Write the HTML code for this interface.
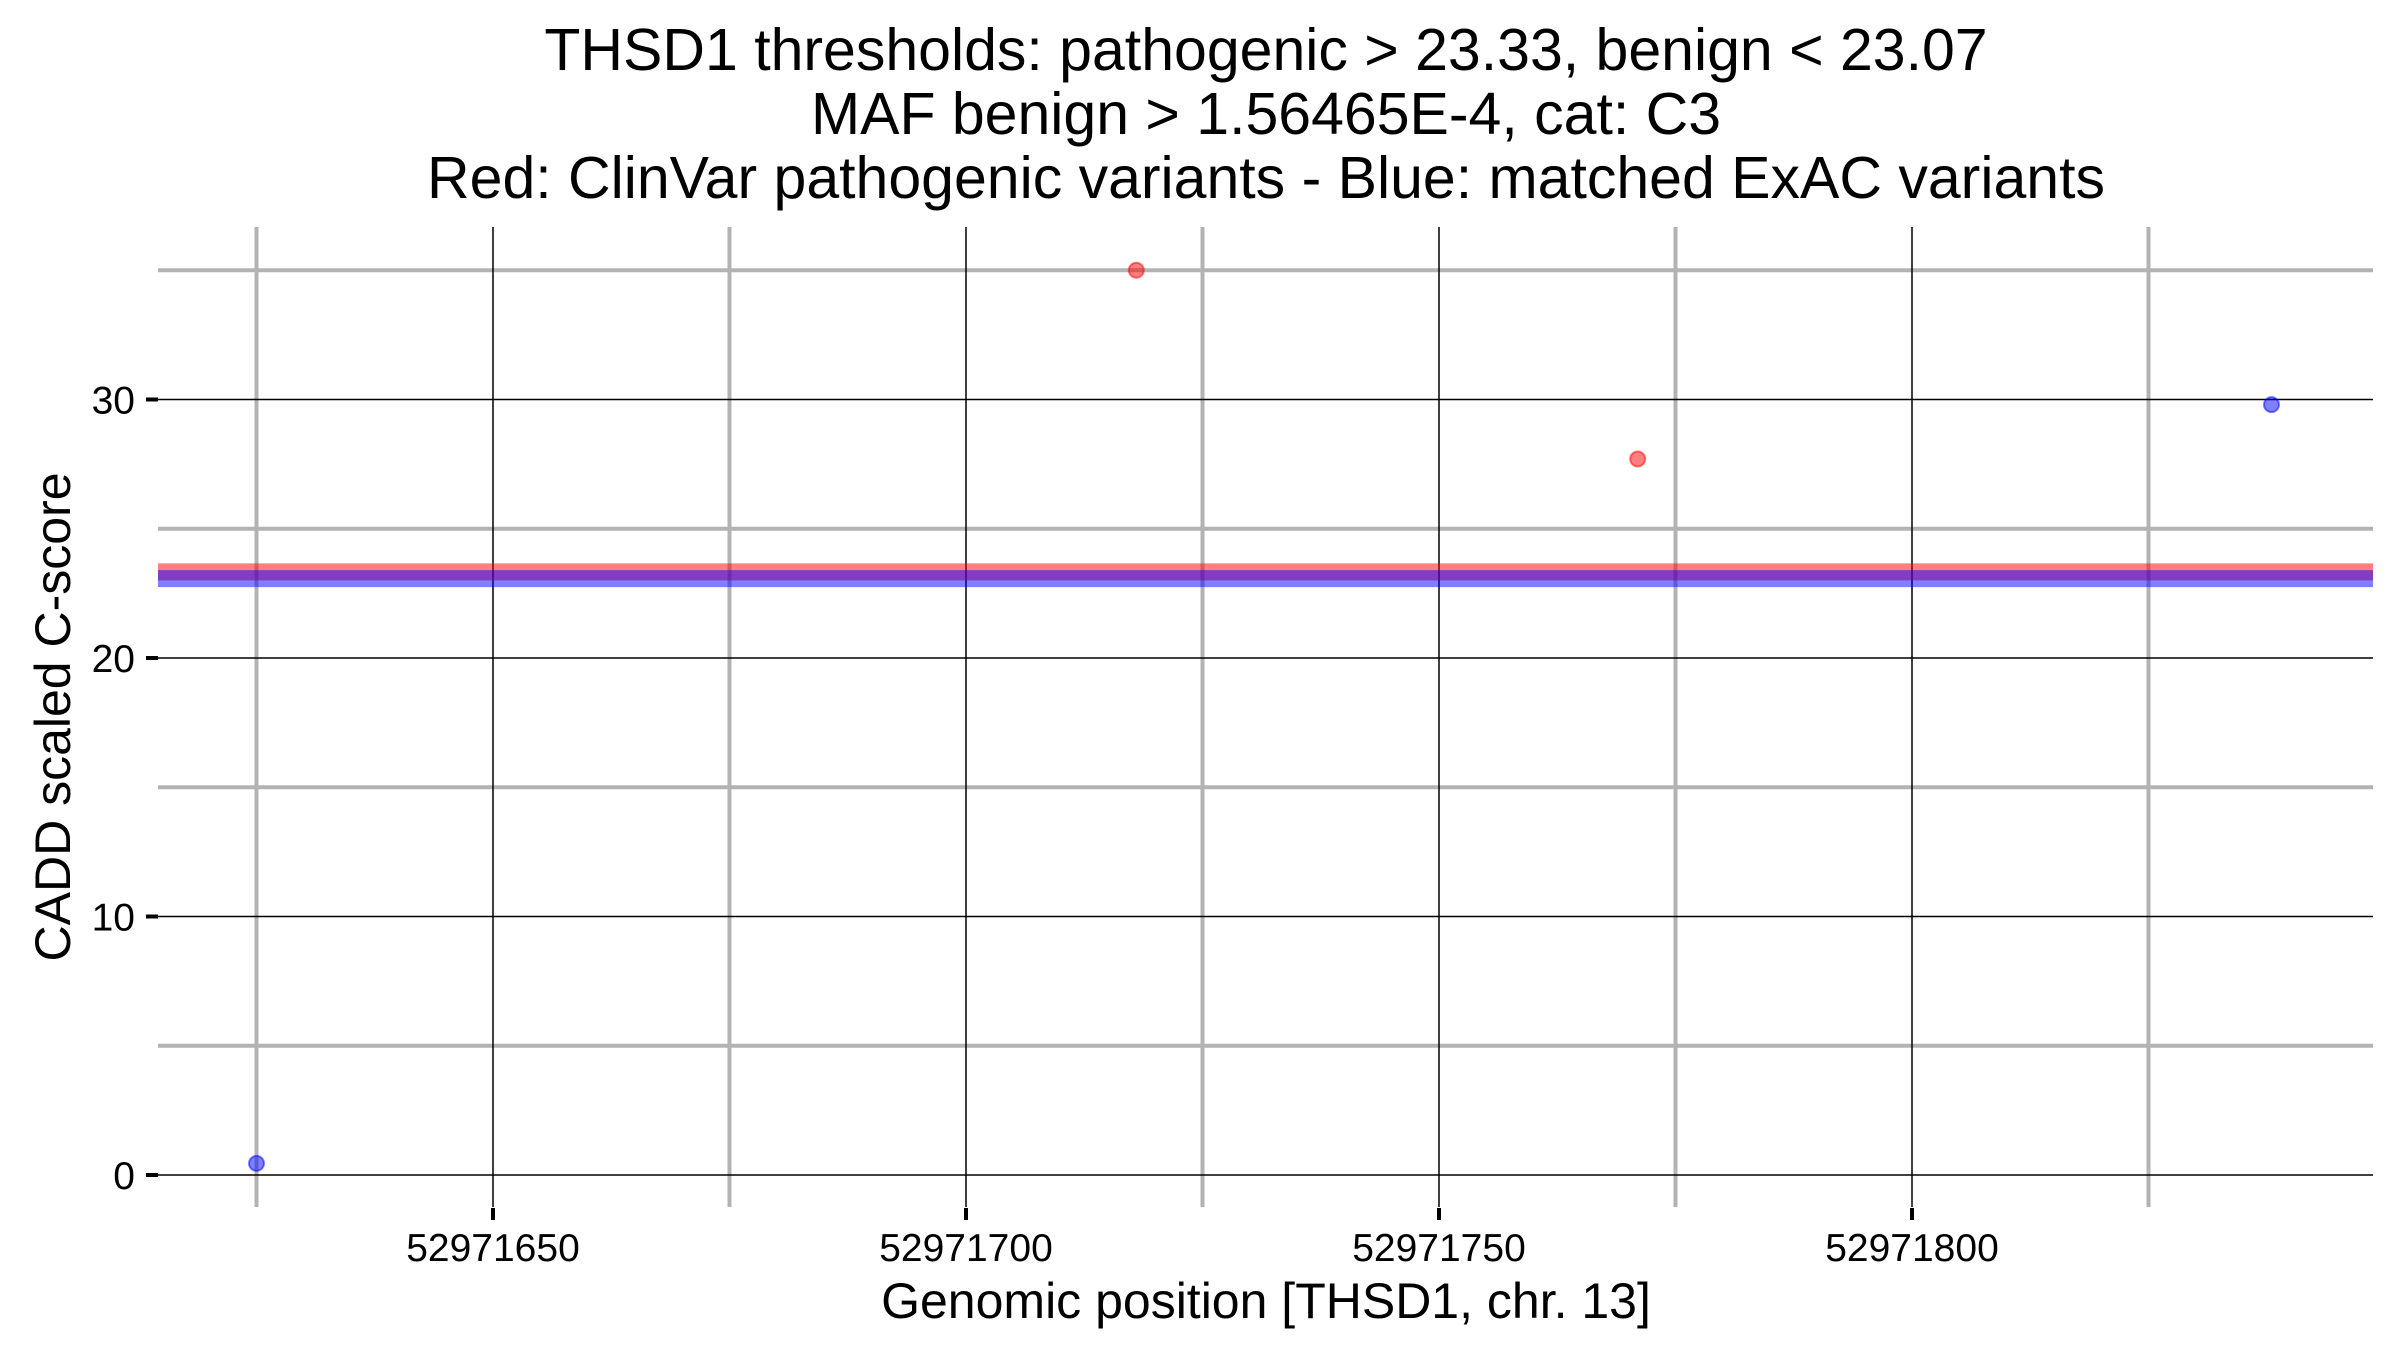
<!DOCTYPE html>
<html><head><meta charset="utf-8"><style>
body{margin:0;background:#fff}
svg{display:block;font-family:"Liberation Sans",Arial,sans-serif}
</style></head><body>
<svg id="chart" width="2400" height="1350" viewBox="0 0 2400 1350" xmlns="http://www.w3.org/2000/svg">
<g font-size="59" text-anchor="middle" fill="#000">
<text x="1266" y="70">THSD1 thresholds: pathogenic &gt; 23.33, benign &lt; 23.07</text>
<text x="1266" y="134">MAF benign &gt; 1.56465E-4, cat: C3</text>
<text x="1266" y="198">Red: ClinVar pathogenic variants - Blue: matched ExAC variants</text>
</g>
<g id="grid"></g><g id="bands"></g><g id="axes"></g><g id="points"></g>
<text x="1266" y="1318" font-size="50" text-anchor="middle">Genomic position [THSD1, chr. 13]</text>
<text transform="translate(70,717) rotate(-90)" font-size="50" text-anchor="middle">CADD scaled C-score</text>
</svg>
<script>
const xTicks=[52971650,52971700,52971750,52971800];
const xMinor=[52971625,52971675,52971725,52971775,52971825];
const yTicks=[0,10,20,30];
const yMinor=[5,15,25,35];
const pathoX=[52971718,52971771];
const pathoY=[35,27.7];
const benignX=[52971625,52971838];
const benignY=[0.45,29.8];
const thresholds=[23.33,23.07];
const L=158,R=2373,T=227,B=1207;
const xs=v=>493+(v-52971650)*9.46;
const ys=v=>1175-v*25.85;
const NS='http://www.w3.org/2000/svg';
function mk(parent,tag,attrs){const e=document.createElementNS(NS,tag);for(const k in attrs)e.setAttribute(k,attrs[k]);document.getElementById(parent).appendChild(e);return e;}
xMinor.forEach(v=>{const e=mk('grid','line',{x1:xs(v),x2:xs(v),y1:T,y2:B,stroke:'#b3b3b3','stroke-width':4});

});
yMinor.forEach(v=>{const e=mk('grid','line',{x1:L,x2:R,y1:ys(v),y2:ys(v),stroke:'#b3b3b3','stroke-width':4});

});
xTicks.forEach(v=>{const e=mk('grid','line',{x1:xs(v),x2:xs(v),y1:T,y2:B,stroke:'#000','stroke-width':1.5});


const t=mk('axes','line',{x1:xs(v),x2:xs(v),y1:1208,y2:1220,stroke:'#000','stroke-width':4});


const l=mk('axes','text',{x:xs(v),y:1261,'font-size':39,'text-anchor':'middle'});l.textContent=v;

});
yTicks.forEach(v=>{const e=mk('grid','line',{x1:L,x2:R,y1:ys(v),y2:ys(v),stroke:'#000','stroke-width':1.5});


const t=mk('axes','line',{x1:146,x2:158,y1:ys(v),y2:ys(v),stroke:'#000','stroke-width':4});


const l=mk('axes','text',{x:135,y:ys(v)+14,'font-size':39,'text-anchor':'end'});l.textContent=v;

});
['#ff0000','#0000ff'].forEach((c,i)=>{const e=mk('bands','line',{x1:L,x2:R,y1:ys(thresholds[i]),y2:ys(thresholds[i]),stroke:c,'stroke-opacity':0.5,'stroke-width':17});

});
pathoX.forEach((v,i)=>{const e=mk('points','circle',{cx:xs(v),cy:ys(pathoY[i]),r:7.5,fill:'#ff0000','fill-opacity':0.5,stroke:'#ff0000','stroke-opacity':0.5,'stroke-width':2});

});
benignX.forEach((v,i)=>{const e=mk('points','circle',{cx:xs(v),cy:ys(benignY[i]),r:7.5,fill:'#0000ff','fill-opacity':0.5,stroke:'#0000ff','stroke-opacity':0.5,'stroke-width':2});

});
</script>
</body></html>
